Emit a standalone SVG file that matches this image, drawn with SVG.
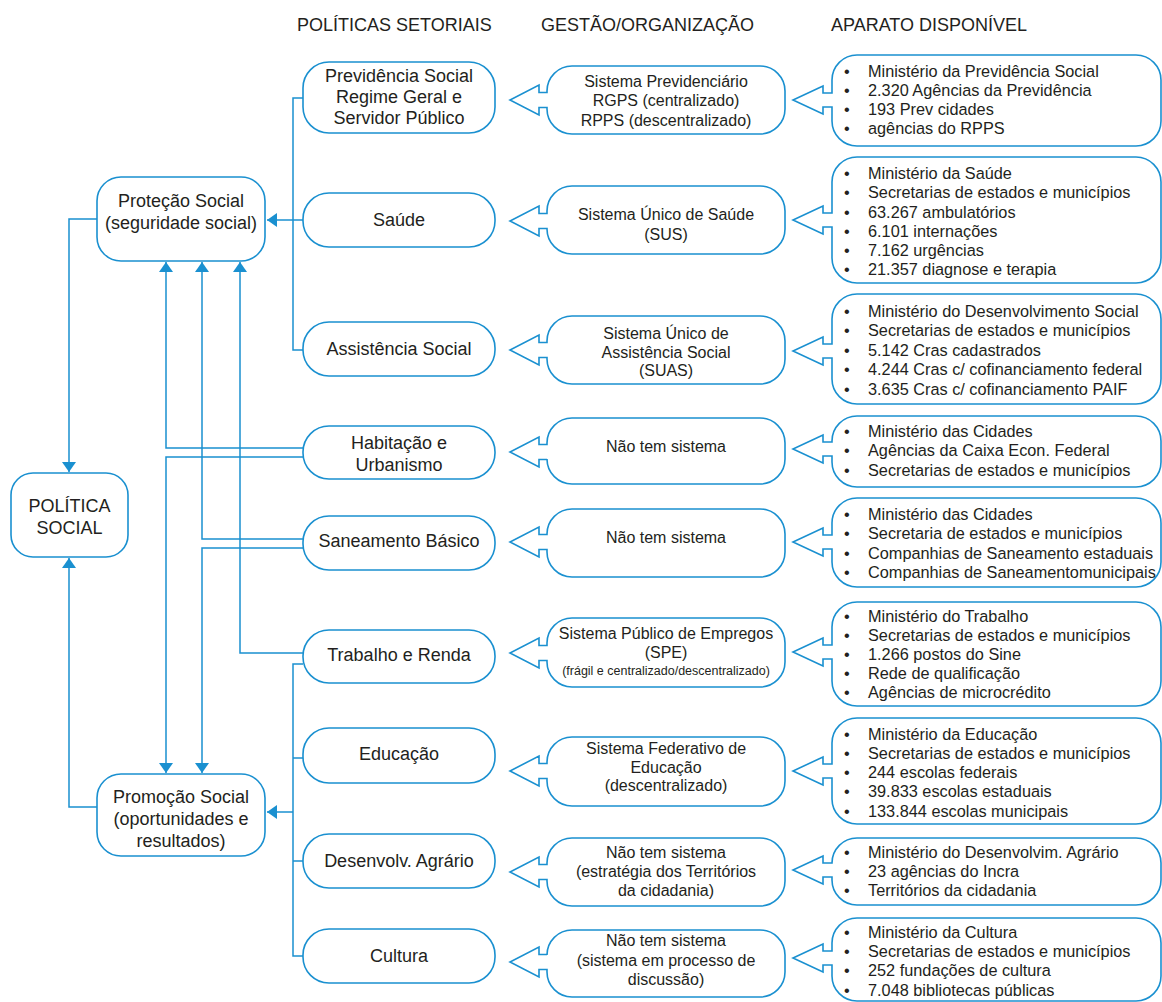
<svg xmlns="http://www.w3.org/2000/svg" width="1162" height="1002" viewBox="0 0 1162 1002">
  <style>
    .box { fill: #ffffff; stroke: #1a90d0; stroke-width: 1.6; }
    .wire { fill: none; stroke: #1a90d0; stroke-width: 1.5; }
    text { font-family: "Liberation Sans", Arial, sans-serif; fill: #231f20; }
    .hd { font-size: 18px; }
    .lg { font-size: 18px; text-anchor: middle; }
    .md { font-size: 16px; text-anchor: middle; }
    .sm { font-size: 12.5px; text-anchor: middle; }
    .li { font-size: 16.3px; }
  </style>
  <defs>
    <marker id="tri" viewBox="0 0 10 14" refX="10" refY="7" markerWidth="10" markerHeight="14" markerUnits="userSpaceOnUse" orient="auto">
      <path d="M0,0 L10,7 L0,14 Z" fill="#1a90d0"/>
    </marker>
  </defs>

  <!-- column headings -->
  <g id="headings">
    <text class="hd" x="297" y="31">POLÍTICAS SETORIAIS</text>
    <text class="hd" x="541" y="31">GESTÃO/ORGANIZAÇÃO</text>
    <text class="hd" x="831" y="31">APARATO DISPONÍVEL</text>
  </g>

  <!-- connectors -->
  <g id="connectors">
    <path class="wire" d="M303,98 H293 V350 H303"/>
    <path class="wire" d="M303,220 H267" marker-end="url(#tri)"/>
    <path class="wire" d="M97,219 H69 V472" marker-end="url(#tri)"/>
    <path class="wire" d="M97,807 H69 V558" marker-end="url(#tri)"/>
    <path class="wire" d="M303,448 H166 V262" marker-end="url(#tri)"/>
    <path class="wire" d="M303,457 H166 V773" marker-end="url(#tri)"/>
    <path class="wire" d="M303,539 H202 V262" marker-end="url(#tri)"/>
    <path class="wire" d="M303,548 H202 V773" marker-end="url(#tri)"/>
    <path class="wire" d="M303,653 H240 V262" marker-end="url(#tri)"/>
    <path class="wire" d="M303,664 H293 V956 H303 M293,758 H303 M293,861 H303"/>
    <path class="wire" d="M293,812 H267" marker-end="url(#tri)"/>
  </g>

  <!-- left column -->
  <g id="protecao">
    <rect class="box" x="97" y="177" width="168" height="84" rx="24"/>
    <text class="lg" x="181" y="207">Proteção Social</text>
    <text class="lg" x="181" y="229">(seguridade social)</text>
  </g>
  <g id="politica">
    <rect class="box" x="11" y="473" width="117" height="84" rx="22"/>
    <text class="lg" x="69.5" y="512">POLÍTICA</text>
    <text class="lg" x="69.5" y="534">SOCIAL</text>
  </g>
  <g id="promocao">
    <rect class="box" x="97" y="774" width="168" height="82" rx="24"/>
    <text class="lg" x="181" y="803">Promoção Social</text>
    <text class="lg" x="181" y="825">(oportunidades e</text>
    <text class="lg" x="181" y="847">resultados)</text>
  </g>

  <!-- sector policies -->
  <g id="previdencia">
    <rect class="box" x="303" y="62" width="192" height="71" rx="26"/>
    <text class="lg" x="399" y="82">Previdência Social</text>
    <text class="lg" x="399" y="103">Regime Geral e</text>
    <text class="lg" x="399" y="124">Servidor Público</text>
  </g>
  <g id="saude">
    <rect class="box" x="303" y="193" width="192" height="54" rx="26"/>
    <text class="lg" x="399" y="226">Saúde</text>
  </g>
  <g id="assistencia">
    <rect class="box" x="303" y="322" width="192" height="54" rx="26"/>
    <text class="lg" x="399" y="355">Assistência Social</text>
  </g>
  <g id="habitacao">
    <rect class="box" x="303" y="426" width="192" height="53" rx="26"/>
    <text class="lg" x="399" y="449">Habitação e</text>
    <text class="lg" x="399" y="471">Urbanismo</text>
  </g>
  <g id="saneamento">
    <rect class="box" x="303" y="516" width="192" height="54" rx="26"/>
    <text class="lg" x="399" y="547">Saneamento Básico</text>
  </g>
  <g id="trabalho">
    <rect class="box" x="303" y="630" width="192" height="53" rx="26"/>
    <text class="lg" x="399" y="661">Trabalho e Renda</text>
  </g>
  <g id="educacao">
    <rect class="box" x="303" y="728" width="192" height="55" rx="26"/>
    <text class="lg" x="399" y="760">Educação</text>
  </g>
  <g id="agrario">
    <rect class="box" x="303" y="834" width="192" height="54" rx="26"/>
    <text class="lg" x="399" y="867">Desenvolv. Agrário</text>
  </g>
  <g id="cultura">
    <rect class="box" x="303" y="929" width="192" height="54" rx="26"/>
    <text class="lg" x="399" y="962">Cultura</text>
  </g>

  <!-- management / organisation callouts (box 547..785, arrow tip at 510) -->
  <g id="g-previdencia">
    <path class="box" d="M572,66 H760 A25,25 0 0 1 785,91 V109 A25,25 0 0 1 760,134 H572 A25,25 0 0 1 547,109 V107.5 H539 V115 L510,100 L539,85 V92.5 H547 V91 A25,25 0 0 1 572,66 Z"/>
    <text class="md" x="666" y="87">Sistema Previdenciário</text>
    <text class="md" x="666" y="106">RGPS (centralizado)</text>
    <text class="md" x="666" y="126">RPPS (descentralizado)</text>
  </g>
  <g id="g-saude">
    <path class="box" d="M572,186 H760 A25,25 0 0 1 785,211 V229 A25,25 0 0 1 760,254 H572 A25,25 0 0 1 547,229 V228.5 H539 V236 L510,221 L539,206 V213.5 H547 V211 A25,25 0 0 1 572,186 Z"/>
    <text class="md" x="666" y="220">Sistema Único de Saúde</text>
    <text class="md" x="666" y="240">(SUS)</text>
  </g>
  <g id="g-assistencia">
    <path class="box" d="M572,316 H760 A25,25 0 0 1 785,341 V359 A25,25 0 0 1 760,384 H572 A25,25 0 0 1 547,359 V357.5 H539 V365 L510,350 L539,335 V342.5 H547 V341 A25,25 0 0 1 572,316 Z"/>
    <text class="md" x="666" y="339">Sistema Único de</text>
    <text class="md" x="666" y="357.5">Assistência Social</text>
    <text class="md" x="666" y="376">(SUAS)</text>
  </g>
  <g id="g-habitacao">
    <path class="box" d="M572,418 H760 A25,25 0 0 1 785,443 V459 A25,25 0 0 1 760,484 H572 A25,25 0 0 1 547,459 V459.5 H539 V467 L510,452 L539,437 V444.5 H547 V443 A25,25 0 0 1 572,418 Z"/>
    <text class="md" x="666" y="452">Não tem sistema</text>
  </g>
  <g id="g-saneamento">
    <path class="box" d="M572,509 H760 A25,25 0 0 1 785,534 V552 A25,25 0 0 1 760,577 H572 A25,25 0 0 1 547,552 V549.5 H539 V557 L510,542 L539,527 V534.5 H547 V534 A25,25 0 0 1 572,509 Z"/>
    <text class="md" x="666" y="543">Não tem sistema</text>
  </g>
  <g id="g-trabalho">
    <path class="box" d="M572,618 H760 A25,25 0 0 1 785,643 V662 A25,25 0 0 1 760,687 H572 A25,25 0 0 1 547,662 V660.5 H539 V668 L510,653 L539,638 V645.5 H547 V643 A25,25 0 0 1 572,618 Z"/>
    <text class="md" x="666" y="639">Sistema Público de Empregos</text>
    <text class="md" x="666" y="657.5">(SPE)</text>
    <text class="sm" x="666" y="675">(frágil e centralizado/descentralizado)</text>
  </g>
  <g id="g-educacao">
    <path class="box" d="M572,737 H760 A25,25 0 0 1 785,762 V781 A25,25 0 0 1 760,806 H572 A25,25 0 0 1 547,781 V778.5 H539 V786 L510,771 L539,756 V763.5 H547 V762 A25,25 0 0 1 572,737 Z"/>
    <text class="md" x="666" y="754">Sistema Federativo de</text>
    <text class="md" x="666" y="772.5">Educação</text>
    <text class="md" x="666" y="791">(descentralizado)</text>
  </g>
  <g id="g-agrario">
    <path class="box" d="M572,838 H760 A25,25 0 0 1 785,863 V881 A25,25 0 0 1 760,906 H572 A25,25 0 0 1 547,881 V879.5 H539 V887 L510,872 L539,857 V864.5 H547 V863 A25,25 0 0 1 572,838 Z"/>
    <text class="md" x="666" y="858">Não tem sistema</text>
    <text class="md" x="666" y="877">(estratégia dos Territórios</text>
    <text class="md" x="666" y="896">da cidadania)</text>
  </g>
  <g id="g-cultura">
    <path class="box" d="M572,930 H760 A25,25 0 0 1 785,955 V972 A25,25 0 0 1 760,997 H572 A25,25 0 0 1 547,972 V969.5 H539 V977 L510,962 L539,947 V954.5 H547 V955 A25,25 0 0 1 572,930 Z"/>
    <text class="md" x="666" y="946">Não tem sistema</text>
    <text class="md" x="666" y="966">(sistema em processo de</text>
    <text class="md" x="666" y="985">discussão)</text>
  </g>

  <!-- available apparatus callouts (box 832..1161, arrow tip at 793) -->
  <g id="a-previdencia">
    <path class="box" d="M857,55 H1136 A25,25 0 0 1 1161,80 V121 A25,25 0 0 1 1136,146 H857 A25,25 0 0 1 832,121 V107 H823 V114 L793,100 L823,86 V93 H832 V80 A25,25 0 0 1 857,55 Z"/>
    <text class="li" x="844" y="77">•</text><text class="li" x="868" y="77">Ministério da Previdência Social</text>
    <text class="li" x="844" y="96">•</text><text class="li" x="868" y="96">2.320 Agências da Previdência</text>
    <text class="li" x="844" y="115">•</text><text class="li" x="868" y="115">193 Prev cidades</text>
    <text class="li" x="844" y="134">•</text><text class="li" x="868" y="134">agências do RPPS</text>
  </g>
  <g id="a-saude">
    <path class="box" d="M857,157 H1136 A25,25 0 0 1 1161,182 V258 A25,25 0 0 1 1136,283 H857 A25,25 0 0 1 832,258 V227 H823 V234 L793,220 L823,206 V213 H832 V182 A25,25 0 0 1 857,157 Z"/>
    <text class="li" x="844" y="179">•</text><text class="li" x="868" y="179">Ministério da Saúde</text>
    <text class="li" x="844" y="198">•</text><text class="li" x="868" y="198">Secretarias de estados e municípios</text>
    <text class="li" x="844" y="218">•</text><text class="li" x="868" y="218">63.267 ambulatórios</text>
    <text class="li" x="844" y="237">•</text><text class="li" x="868" y="237">6.101 internações</text>
    <text class="li" x="844" y="256">•</text><text class="li" x="868" y="256">7.162 urgências</text>
    <text class="li" x="844" y="275">•</text><text class="li" x="868" y="275">21.357 diagnose e terapia</text>
  </g>
  <g id="a-assistencia">
    <path class="box" d="M857,294 H1136 A25,25 0 0 1 1161,319 V379 A25,25 0 0 1 1136,404 H857 A25,25 0 0 1 832,379 V358 H823 V365 L793,351 L823,337 V344 H832 V319 A25,25 0 0 1 857,294 Z"/>
    <text class="li" x="844" y="317">•</text><text class="li" x="868" y="317">Ministério do Desenvolvimento Social</text>
    <text class="li" x="844" y="336">•</text><text class="li" x="868" y="336">Secretarias de estados e municípios</text>
    <text class="li" x="844" y="356">•</text><text class="li" x="868" y="356">5.142 Cras cadastrados</text>
    <text class="li" x="844" y="375">•</text><text class="li" x="868" y="375">4.244 Cras c/ cofinanciamento federal</text>
    <text class="li" x="844" y="395">•</text><text class="li" x="868" y="395">3.635 Cras c/ cofinanciamento PAIF</text>
  </g>
  <g id="a-habitacao">
    <path class="box" d="M857,416 H1136 A25,25 0 0 1 1161,441 V462 A25,25 0 0 1 1136,487 H857 A25,25 0 0 1 832,462 V456 H823 V463 L793,449 L823,435 V442 H832 V441 A25,25 0 0 1 857,416 Z"/>
    <text class="li" x="844" y="437">•</text><text class="li" x="868" y="437">Ministério das Cidades</text>
    <text class="li" x="844" y="456">•</text><text class="li" x="868" y="456">Agências da Caixa Econ. Federal</text>
    <text class="li" x="844" y="476">•</text><text class="li" x="868" y="476">Secretarias de estados e municípios</text>
  </g>
  <g id="a-saneamento">
    <path class="box" d="M857,498 H1136 A25,25 0 0 1 1161,523 V562 A25,25 0 0 1 1136,587 H857 A25,25 0 0 1 832,562 V549 H823 V556 L793,542 L823,528 V535 H832 V523 A25,25 0 0 1 857,498 Z"/>
    <text class="li" x="844" y="520">•</text><text class="li" x="868" y="520">Ministério das Cidades</text>
    <text class="li" x="844" y="539">•</text><text class="li" x="868" y="539">Secretaria de estados e municípios</text>
    <text class="li" x="844" y="559">•</text><text class="li" x="868" y="559">Companhias de Saneamento estaduais</text>
    <text class="li" x="844" y="578">•</text><text class="li" x="868" y="578">Companhias de Saneamentomunicipais</text>
  </g>
  <g id="a-trabalho">
    <path class="box" d="M857,602 H1136 A25,25 0 0 1 1161,627 V681 A25,25 0 0 1 1136,706 H857 A25,25 0 0 1 832,681 V659 H823 V666 L793,652 L823,638 V645 H832 V627 A25,25 0 0 1 857,602 Z"/>
    <text class="li" x="844" y="622">•</text><text class="li" x="868" y="622">Ministério do Trabalho</text>
    <text class="li" x="844" y="641">•</text><text class="li" x="868" y="641">Secretarias de estados e municípios</text>
    <text class="li" x="844" y="660">•</text><text class="li" x="868" y="660">1.266 postos do Sine</text>
    <text class="li" x="844" y="679">•</text><text class="li" x="868" y="679">Rede de qualificação</text>
    <text class="li" x="844" y="698">•</text><text class="li" x="868" y="698">Agências de microcrédito</text>
  </g>
  <g id="a-educacao">
    <path class="box" d="M857,718 H1136 A25,25 0 0 1 1161,743 V799 A25,25 0 0 1 1136,824 H857 A25,25 0 0 1 832,799 V778 H823 V785 L793,771 L823,757 V764 H832 V743 A25,25 0 0 1 857,718 Z"/>
    <text class="li" x="844" y="740">•</text><text class="li" x="868" y="740">Ministério da Educação</text>
    <text class="li" x="844" y="759">•</text><text class="li" x="868" y="759">Secretarias de estados e municípios</text>
    <text class="li" x="844" y="778">•</text><text class="li" x="868" y="778">244 escolas federais</text>
    <text class="li" x="844" y="797">•</text><text class="li" x="868" y="797">39.833 escolas estaduais</text>
    <text class="li" x="844" y="817">•</text><text class="li" x="868" y="817">133.844 escolas municipais</text>
  </g>
  <g id="a-agrario">
    <path class="box" d="M857,838 H1136 A25,25 0 0 1 1161,863 V880 A25,25 0 0 1 1136,905 H857 A25,25 0 0 1 832,880 V877 H823 V884 L793,870 L823,856 V863 H832 V863 A25,25 0 0 1 857,838 Z"/>
    <text class="li" x="844" y="858">•</text><text class="li" x="868" y="858">Ministério do Desenvolvim. Agrário</text>
    <text class="li" x="844" y="877">•</text><text class="li" x="868" y="877">23 agências do Incra</text>
    <text class="li" x="844" y="896">•</text><text class="li" x="868" y="896">Territórios da cidadania</text>
  </g>
  <g id="a-cultura">
    <path class="box" d="M857,918 H1136 A25,25 0 0 1 1161,943 V976 A25,25 0 0 1 1136,1001 H857 A25,25 0 0 1 832,976 V965 H823 V972 L793,958 L823,944 V951 H832 V943 A25,25 0 0 1 857,918 Z"/>
    <text class="li" x="844" y="938">•</text><text class="li" x="868" y="938">Ministério da Cultura</text>
    <text class="li" x="844" y="957">•</text><text class="li" x="868" y="957">Secretarias de estados e municípios</text>
    <text class="li" x="844" y="976">•</text><text class="li" x="868" y="976">252 fundações de cultura</text>
    <text class="li" x="844" y="996">•</text><text class="li" x="868" y="996">7.048 bibliotecas públicas</text>
  </g>
</svg>
